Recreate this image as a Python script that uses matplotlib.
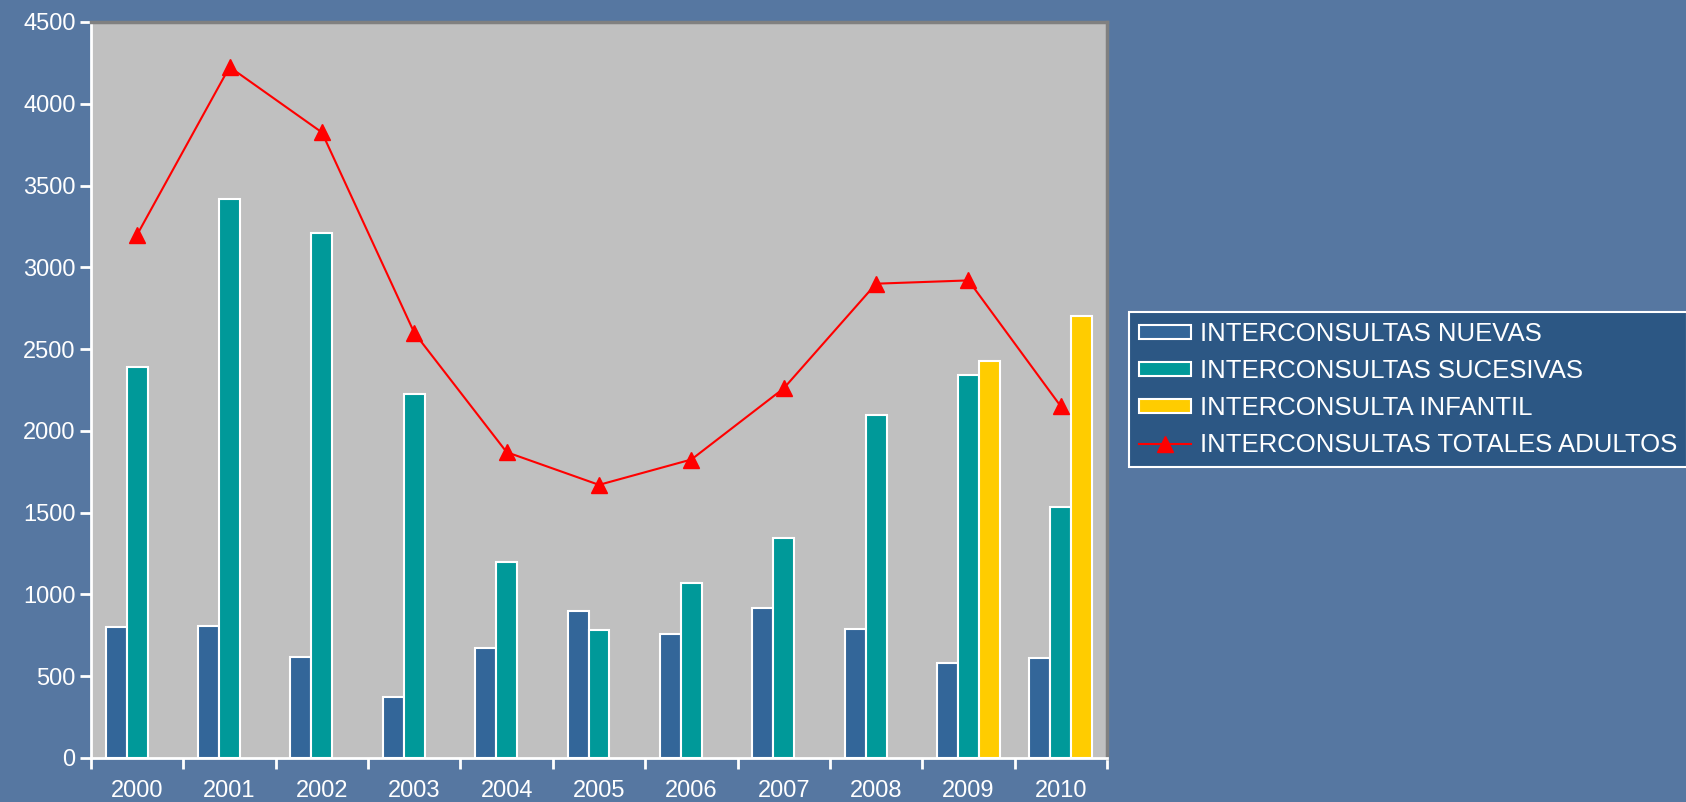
import numpy as np
import matplotlib
matplotlib.use("Agg")
import matplotlib.pyplot as plt
from matplotlib.ticker import FixedLocator

plt.rcParams['font.family'] = ['Liberation Sans', 'DejaVu Sans']

# Datos
years = ["2000", "2001", "2002", "2003", "2004", "2005", "2006", "2007", "2008", "2009", "2010"]
nuevas = [800, 810, 620, 370, 670, 900, 760, 920, 790, 580, 610]
sucesivas = [2390, 3420, 3210, 2225, 1200, 780, 1070, 1345, 2100, 2340, 1535]
infantil = [0, 0, 0, 0, 0, 0, 0, 0, 0, 2430, 2700]
totales = [3200, 4225, 3825, 2600, 1870, 1670, 1825, 2260, 2900, 2920, 2150]

bg = "#5677a1"
fig = plt.figure(figsize=(16.86, 8.02), dpi=100, facecolor=bg)
ax = fig.add_axes([91 / 1686, 1 - 758 / 802, (1107 - 91) / 1686, (758 - 22) / 802])
ax.set_facecolor("#c0c0c0")

x = np.arange(len(years))
w = 0.227
b1 = ax.bar(x - w, nuevas, w, color="#336699", edgecolor="white", linewidth=1.5,
            label="INTERCONSULTAS NUEVAS")
b2 = ax.bar(x, sucesivas, w, color="#009999", edgecolor="white", linewidth=1.5,
            label="INTERCONSULTAS SUCESIVAS")
mask = np.array(infantil) > 0
b3 = ax.bar(x[mask] + w, np.array(infantil)[mask], w, color="#ffcc00", edgecolor="white",
            linewidth=1.5, label="INTERCONSULTA INFANTIL")
ln, = ax.plot(x, totales, color="red", linewidth=1.5, marker="^", markersize=11,
              label="INTERCONSULTAS TOTALES ADULTOS")

ax.set_xlim(-0.5, len(years) - 0.5)
ax.set_ylim(0, 4500)
ax.set_yticks(np.arange(0, 4501, 500))
ax.set_xticks(x)
ax.set_xticklabels(years)
ax.xaxis.set_minor_locator(FixedLocator(np.arange(-0.5, len(years), 1)))

ax.tick_params(axis="y", colors="white", labelsize=17, length=8, width=2, pad=3)
ax.tick_params(axis="x", which="major", colors="white", labelsize=17, length=0, pad=16)
ax.tick_params(axis="x", which="minor", colors="white", length=8, width=2)

for s in ["left", "bottom"]:
    ax.spines[s].set_color("white")
    ax.spines[s].set_linewidth(2)
for s in ["top", "right"]:
    ax.spines[s].set_color("#808080")
    ax.spines[s].set_linewidth(2.5)

leg = fig.legend(handles=[b1, b2, b3, ln], loc="upper left",
                 bbox_to_anchor=(1129 / 1686, 1 - 312 / 802),
                 fontsize=18.5, frameon=True, fancybox=False, facecolor="#2c5784",
                 edgecolor="white", framealpha=1, labelcolor="white",
                 handlelength=2.0, handleheight=0.5, handletextpad=0.35,
                 labelspacing=0.5, borderpad=0.4, borderaxespad=0)
leg.get_frame().set_linewidth(1.5)

fig.savefig("out.png", dpi=100, facecolor=bg)
